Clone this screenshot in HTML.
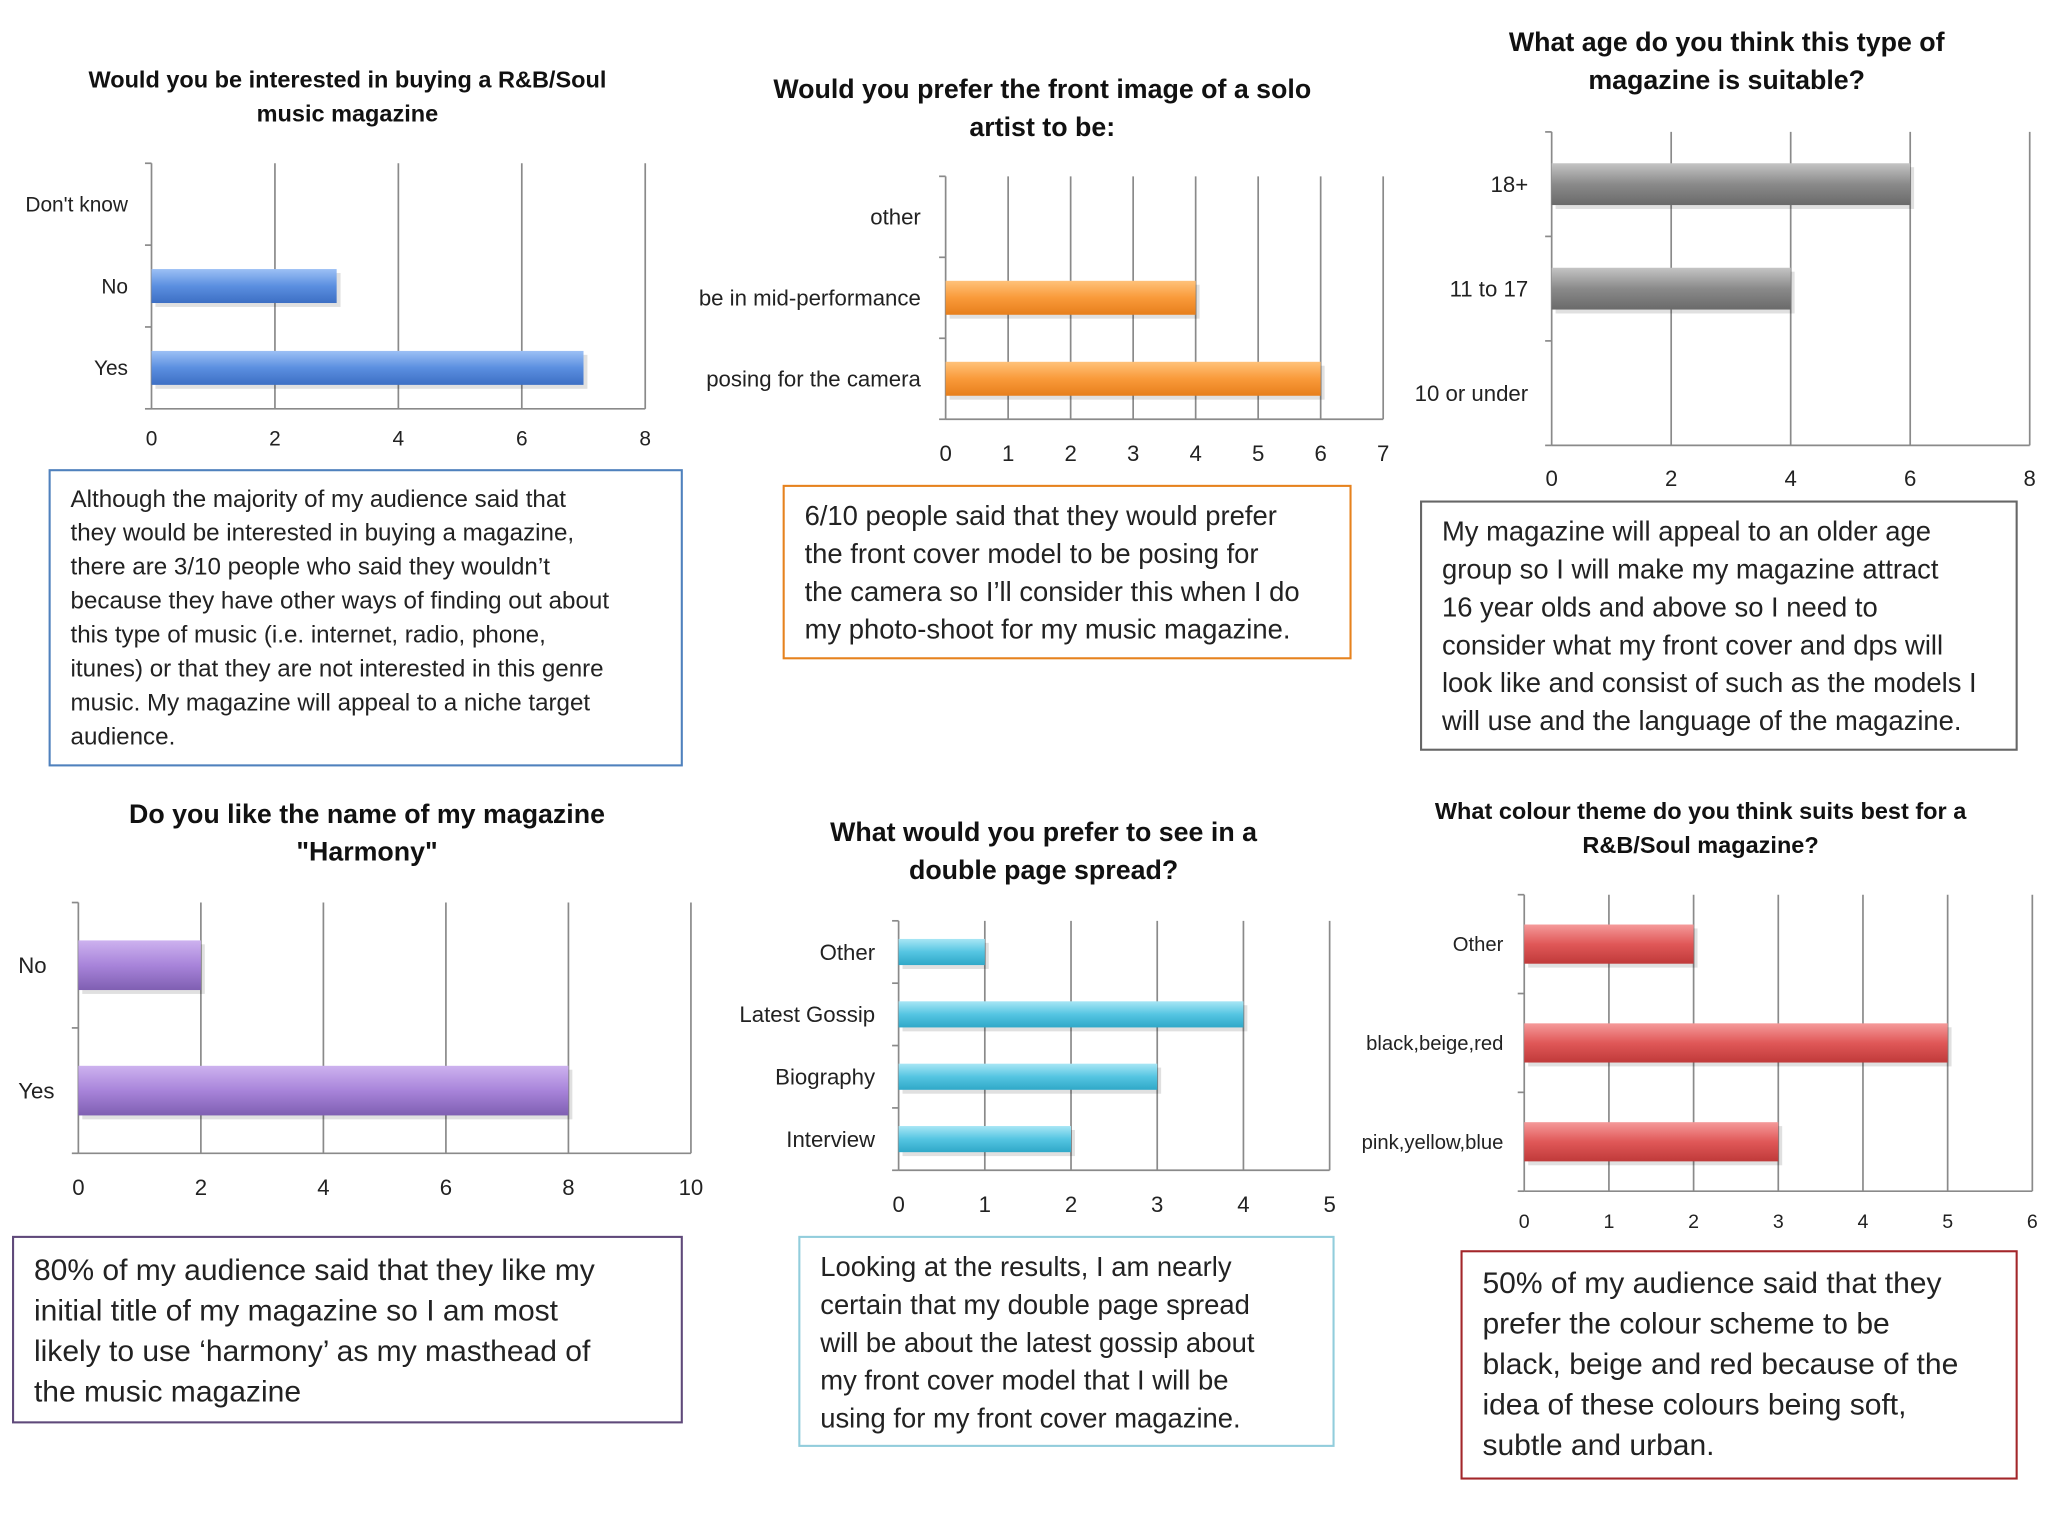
<!DOCTYPE html>
<html><head><meta charset="utf-8">
<style>
html,body{margin:0;padding:0;background:#fff;}
svg{display:block;font-family:"Liberation Sans",sans-serif;}
</style></head>
<body>
<svg id="root" width="2048" height="1536" viewBox="0 0 1568 1176" xmlns="http://www.w3.org/2000/svg">
<defs>
<linearGradient id="gBlue" x1="0" y1="0" x2="0" y2="1"><stop offset="0" stop-color="#9cc0f5"/><stop offset="0.5" stop-color="#5b8fe0"/><stop offset="1" stop-color="#3d6fc4"/></linearGradient>
<linearGradient id="gOrange" x1="0" y1="0" x2="0" y2="1"><stop offset="0" stop-color="#ffc27a"/><stop offset="0.5" stop-color="#f99a3a"/><stop offset="1" stop-color="#e77f1c"/></linearGradient>
<linearGradient id="gGrey" x1="0" y1="0" x2="0" y2="1"><stop offset="0" stop-color="#c4c4c4"/><stop offset="0.5" stop-color="#8a8a8a"/><stop offset="1" stop-color="#6a6a6a"/></linearGradient>
<linearGradient id="gPurple" x1="0" y1="0" x2="0" y2="1"><stop offset="0" stop-color="#cdb2ef"/><stop offset="0.5" stop-color="#a884da"/><stop offset="1" stop-color="#7f5fb2"/></linearGradient>
<linearGradient id="gCyan" x1="0" y1="0" x2="0" y2="1"><stop offset="0" stop-color="#a8e6f5"/><stop offset="0.5" stop-color="#55c5e2"/><stop offset="1" stop-color="#2fa8c8"/></linearGradient>
<linearGradient id="gRed" x1="0" y1="0" x2="0" y2="1"><stop offset="0" stop-color="#f59a9a"/><stop offset="0.5" stop-color="#e05858"/><stop offset="1" stop-color="#c03a3a"/></linearGradient>
</defs>
</svg>
<script>
// Chart 1
const c1Cats = ["Don't know","No","Yes"];
const c1Vals = [0,3,7];
const c1Ticks = [0,2,4,6,8];
// Chart 2
const c2Cats = ["other","be in mid-performance","posing for the camera"];
const c2Vals = [0,4,6];
const c2Ticks = [0,1,2,3,4,5,6,7];
// Chart 3
const c3Cats = ["18+","11 to 17","10 or under"];
const c3Vals = [6,4,0];
const c3Ticks = [0,2,4,6,8];
// Chart 4
const c4Cats = ["No","Yes"];
const c4Vals = [2,8];
const c4Ticks = [0,2,4,6,8,10];
// Chart 5
const c5Cats = ["Other","Latest Gossip","Biography","Interview"];
const c5Vals = [1,4,3,2];
const c5Ticks = [0,1,2,3,4,5];
// Chart 6
const c6Cats = ["Other","black,beige,red","pink,yellow,blue"];
const c6Vals = [2,5,3];
const c6Ticks = [0,1,2,3,4,5,6];

const NS="http://www.w3.org/2000/svg";
const root=document.getElementById('root');
function mk(tag,attrs,parent,text){const e=document.createElementNS(NS,tag);for(const k in attrs)e.setAttribute(k,attrs[k]);if(text!==undefined)e.textContent=text;(parent||root).appendChild(e);return e;}

function chart(id,cfg,cats,vals,ticks){
  const g=mk('g',{});
  
  
  const max=ticks[ticks.length-1];
  const xs=v=>cfg.x0+(cfg.x1-cfg.x0)*v/max;
  const n=cats.length;
  const band=(cfg.bottom-cfg.top)/n;
  const ys=i=>cfg.top+band*(i+0.5);
  // title
  cfg.title.forEach((t,i)=>{
    const e=mk('text',{x:cfg.tx,y:cfg.ty+i*cfg.tstep,'text-anchor':'middle','font-size':cfg.tsize,'font-weight':'bold',fill:'#111'},g,t);
    
    
  });
  // gridlines
  ticks.forEach(t=>{
    if(t===0)return;
    const l=mk('line',{x1:xs(t),x2:xs(t),y1:cfg.top,y2:cfg.bottom,stroke:'#8a8a8a','stroke-width':1.3},g);
    
    
  });
  mk('line',{x1:cfg.x0,x2:cfg.x0,y1:cfg.top,y2:cfg.bottom,stroke:'#8a8a8a','stroke-width':1.3},g);
  mk('line',{x1:cfg.x0,x2:cfg.x1,y1:cfg.bottom,y2:cfg.bottom,stroke:'#8a8a8a','stroke-width':1.3},g);
  for(let i=0;i<=n;i++){mk('line',{x1:cfg.x0-5,x2:cfg.x0,y1:cfg.top+band*i,y2:cfg.top+band*i,stroke:'#8a8a8a','stroke-width':1.3},g);}
  ticks.forEach(t=>{
    const e=mk('text',{x:xs(t),y:cfg.ly,'text-anchor':'middle','font-size':cfg.lsize,fill:'#222'},g,String(t));
    
    
  });
  cats.forEach((c,i)=>{
    const e=mk('text',{x:cfg.catX,y:ys(i)+cfg.csize*0.35,'text-anchor':cfg.catAnchor||'end','font-size':cfg.csize,fill:'#222'},g,c);
    
    
    if(vals[i]>0){
      mk('rect',{x:xs(0)+3,y:ys(i)-cfg.bh/2+3,width:xs(vals[i])-xs(0),height:cfg.bh,fill:'#000',opacity:0.12},g);
      const r=mk('rect',{x:xs(0),y:ys(i)-cfg.bh/2,width:xs(vals[i])-xs(0),height:cfg.bh,fill:cfg.fill},g);
      
      
    }
  });
  // text box
  const b=cfg.box;
  const r=mk('rect',{x:b.x,y:b.y,width:b.w,height:b.h,fill:'#fff',stroke:b.stroke,'stroke-width':1.6},g);
  
  
  b.lines.forEach((t,i)=>{
    const e=mk('text',{x:b.tx,y:b.ty+i*b.step,'font-size':b.size,fill:'#222'},g,t);
    
    
  });
}

chart('chart-interest',{x0:116,x1:494,top:125,bottom:313,title:["Would you be interested in buying a R&B/Soul","music magazine"],tx:266,ty:67,tstep:26,tsize:18,ly:341,lsize:16,catX:98,csize:16,bh:26,fill:'url(#gBlue)',
 box:{x:38,y:360,w:484,h:226,stroke:'#4f81bd',tx:54,ty:388,step:26,size:18.5,lines:["Although the majority of my audience said that","they would be interested in buying a magazine,","there are 3/10 people who said they wouldn’t","because they have other ways of finding out about","this type of music (i.e. internet, radio, phone,","itunes) or that they are not interested in this genre","music. My magazine will appeal to a niche target","audience."]}},c1Cats,c1Vals,c1Ticks);

chart('chart-front-image',{x0:724,x1:1059,top:135,bottom:321,title:["Would you prefer the front image of a solo","artist to be:"],tx:798,ty:75,tstep:29,tsize:20.5,ly:353,lsize:17,catX:705,csize:17,bh:26,fill:'url(#gOrange)',
 box:{x:600,y:372,w:434,h:132,stroke:'#e6821e',tx:616,ty:402,step:29,size:21,lines:["6/10 people said that they would prefer","the front cover model to be posing for","the camera so I’ll consider this when I do","my photo-shoot for my music magazine."]}},c2Cats,c2Vals,c2Ticks);

chart('chart-age',{x0:1188,x1:1554,top:101,bottom:341,title:["What age do you think this type of","magazine is suitable?"],tx:1322,ty:39,tstep:29,tsize:20.5,ly:372,lsize:17,catX:1170,csize:17,bh:32,fill:'url(#gGrey)',
 box:{x:1088,y:384,w:456,h:190,stroke:'#666',tx:1104,ty:414,step:29,size:21,lines:["My magazine will appeal to an older age","group so I will make my magazine attract","16 year olds and above so I need to","consider what my front cover and dps will","look like and consist of such as the models I","will use and the language of the magazine."]}},c3Cats,c3Vals,c3Ticks);

chart('chart-name',{x0:60,x1:529,top:691,bottom:883,title:["Do you like the name of my magazine","\"Harmony\""],tx:281,ty:630,tstep:29,tsize:20.5,ly:915,lsize:17,catX:14,catAnchor:'start',csize:17,bh:38,fill:'url(#gPurple)',
 box:{x:10,y:947,w:512,h:142,stroke:'#5f497a',tx:26,ty:980,step:31,size:23,lines:["80% of my audience said that they like my","initial title of my magazine so I am most","likely to use ‘harmony’ as my masthead of","the music magazine"]}},c4Cats,c4Vals,c4Ticks);

chart('chart-double-page',{x0:688,x1:1018,top:705,bottom:896,title:["What would you prefer to see in a","double page spread?"],tx:799,ty:644,tstep:29,tsize:20.5,ly:928,lsize:17,catX:670,csize:17,bh:20,fill:'url(#gCyan)',
 box:{x:612,y:947,w:409,h:160,stroke:'#92cddc',tx:628,ty:977,step:29,size:21,lines:["Looking at the results, I am nearly","certain that my double page spread","will be about the latest gossip about","my front cover model that I will be","using for my front cover magazine."]}},c5Cats,c5Vals,c5Ticks);

chart('chart-colour',{x0:1167,x1:1556,top:685,bottom:912,title:["What colour theme do you think suits best for a","R&B/Soul magazine?"],tx:1302,ty:627,tstep:26,tsize:18,ly:940,lsize:15,catX:1151,csize:15.5,bh:30,fill:'url(#gRed)',
 box:{x:1119,y:958,w:425,h:174,stroke:'#a3262a',tx:1135,ty:990,step:31,size:23,lines:["50%  of my audience said that they","prefer the colour scheme to be","black, beige and red because of the","idea of these colours being soft,","subtle and urban."]}},c6Cats,c6Vals,c6Ticks);
</script>
</body></html>
